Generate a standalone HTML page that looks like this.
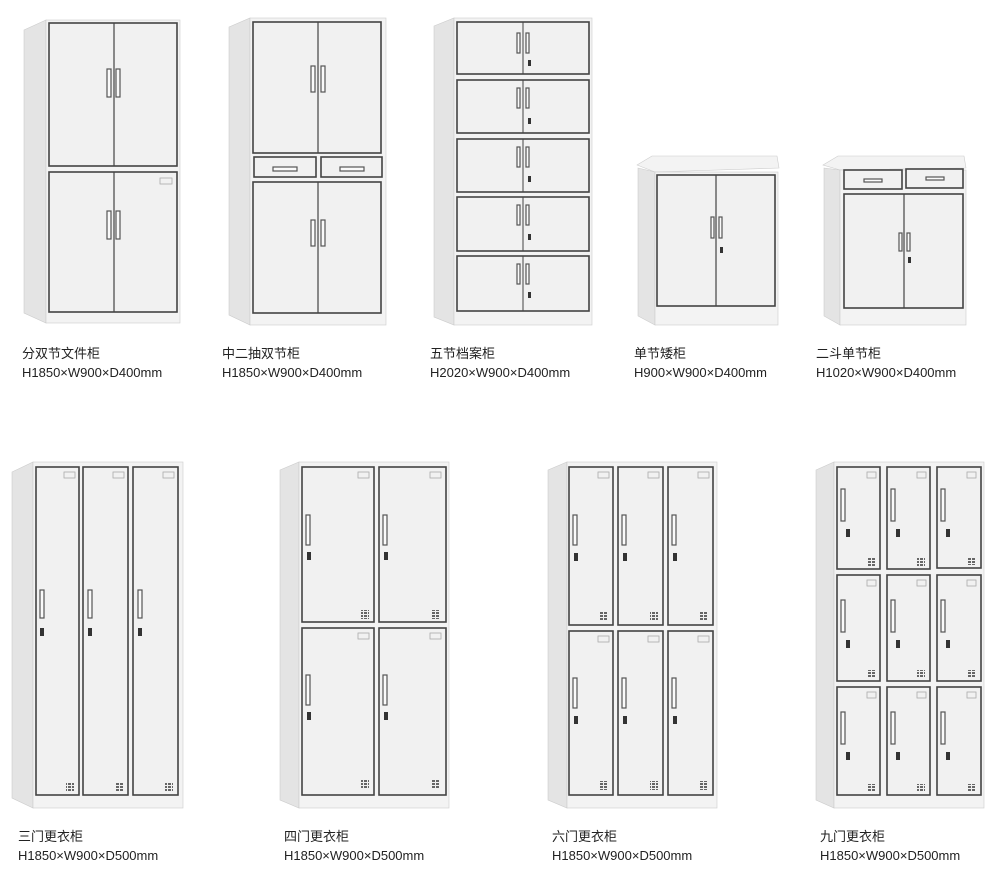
<!DOCTYPE html>
<html><head><meta charset="utf-8"><style>
body{margin:0;background:#fff;width:1000px;height:873px;overflow:hidden}
svg{display:block}
text{font-family:"Liberation Sans","Noto Sans CJK SC",sans-serif;font-size:13px;fill:#222}
.s{fill:#e4e4e4;stroke:#ccc;stroke-width:.6}
.b{fill:#f3f3f3;stroke:#ccc;stroke-width:.6}
.d{fill:#f1f1f1;stroke:#444;stroke-width:1.6}
.h{fill:#fafafa;stroke:#555;stroke-width:1.2}
.k{fill:#333}
.t{fill:none;stroke:#aaa;stroke-width:.8}
</style></head><body>
<svg width="1000" height="873" viewBox="0 0 1000 873">
<defs>
<pattern id="vp" width="4" height="3" patternUnits="userSpaceOnUse"><rect width="3" height="2" fill="#666"/></pattern>
</defs>
<!-- Cabinet 1 -->
<polygon class="s" points="24,30 46,20 46,323 24,313"/>
<rect class="b" x="46" y="20" width="134" height="303"/>
<rect class="d" x="49" y="23" width="128" height="143"/>
<line x1="114" y1="23" x2="114" y2="166" stroke="#444" stroke-width="1.2"/>
<rect class="d" x="49" y="172" width="128" height="140"/>
<line x1="114" y1="172" x2="114" y2="312" stroke="#444" stroke-width="1.2"/>
<rect class="h" x="107" y="69" width="4" height="28"/><rect class="h" x="116" y="69" width="4" height="28"/>
<rect class="h" x="107" y="211" width="4" height="28"/><rect class="h" x="116" y="211" width="4" height="28"/>
<rect class="t" x="160" y="178" width="12" height="6"/>
<!-- Cabinet 2 -->
<polygon class="s" points="229,27 250,18 250,325 229,315"/>
<rect class="b" x="250" y="18" width="136" height="307"/>
<rect class="d" x="253" y="22" width="128" height="131"/>
<line x1="318" y1="22" x2="318" y2="153" stroke="#444" stroke-width="1.2"/>
<rect class="d" x="254" y="157" width="62" height="20"/><rect class="d" x="321" y="157" width="61" height="20"/>
<rect class="h" x="273" y="167" width="24" height="4"/><rect class="h" x="340" y="167" width="24" height="4"/>
<rect class="d" x="253" y="182" width="128" height="131"/>
<line x1="318" y1="182" x2="318" y2="313" stroke="#444" stroke-width="1.2"/>
<rect class="h" x="311" y="66" width="4" height="26"/><rect class="h" x="321" y="66" width="4" height="26"/>
<rect class="h" x="311" y="220" width="4" height="26"/><rect class="h" x="321" y="220" width="4" height="26"/>
<!-- Cabinet 3 -->
<polygon class="s" points="434,26 454,18 454,325 434,317"/>
<rect class="b" x="454" y="18" width="138" height="307"/>
<g>
<rect class="d" x="457" y="22" width="132" height="52"/><line x1="523" y1="22" x2="523" y2="74" stroke="#444"/>
<rect class="d" x="457" y="80" width="132" height="53"/><line x1="523" y1="80" x2="523" y2="133" stroke="#444"/>
<rect class="d" x="457" y="139" width="132" height="53"/><line x1="523" y1="139" x2="523" y2="192" stroke="#444"/>
<rect class="d" x="457" y="197" width="132" height="54"/><line x1="523" y1="197" x2="523" y2="251" stroke="#444"/>
<rect class="d" x="457" y="256" width="132" height="55"/><line x1="523" y1="256" x2="523" y2="311" stroke="#444"/>
</g>
<g class="h">
<rect x="517" y="33" width="3" height="20"/><rect x="526" y="33" width="3" height="20"/>
<rect x="517" y="88" width="3" height="20"/><rect x="526" y="88" width="3" height="20"/>
<rect x="517" y="147" width="3" height="20"/><rect x="526" y="147" width="3" height="20"/>
<rect x="517" y="205" width="3" height="20"/><rect x="526" y="205" width="3" height="20"/>
<rect x="517" y="264" width="3" height="20"/><rect x="526" y="264" width="3" height="20"/>
</g>
<g class="k"><rect x="528" y="60" width="3" height="6"/><rect x="528" y="118" width="3" height="6"/><rect x="528" y="176" width="3" height="6"/><rect x="528" y="234" width="3" height="6"/><rect x="528" y="292" width="3" height="6"/></g>
<!-- Cabinet 4 -->
<polygon class="b" points="637,165 652,156 777,156 779,168 655,172"/>
<polygon class="s" points="638,168 655,172 655,325 638,316"/>
<rect class="b" x="655" y="172" width="123" height="153"/>
<rect class="d" x="657" y="175" width="118" height="131"/>
<line x1="716" y1="175" x2="716" y2="306" stroke="#444" stroke-width="1.2"/>
<rect class="h" x="711" y="217" width="3" height="21"/><rect x="719" y="217" width="3" height="21" class="h"/>
<rect class="k" x="720" y="247" width="3" height="6"/>
<!-- Cabinet 5 -->
<polygon class="b" points="823,165 838,156 964,156 966,168 840,170"/>
<polygon class="s" points="824,168 840,170 840,325 824,316"/>
<rect class="b" x="840" y="170" width="126" height="155"/>
<rect class="d" x="844" y="170" width="58" height="19"/><rect class="d" x="906" y="169" width="57" height="19"/>
<rect class="h" x="864" y="179" width="18" height="3"/><rect class="h" x="926" y="177" width="18" height="3"/>
<rect class="d" x="844" y="194" width="119" height="114"/>
<line x1="904" y1="194" x2="904" y2="308" stroke="#444" stroke-width="1.2"/>
<rect class="h" x="899" y="233" width="3" height="18"/><rect class="h" x="907" y="233" width="3" height="18"/>
<rect class="k" x="908" y="257" width="3" height="6"/>
<!-- Row 1 labels -->
<text x="22" y="358">分双节文件柜</text><text x="22" y="377">H1850×W900×D400mm</text>
<text x="222" y="358">中二抽双节柜</text><text x="222" y="377">H1850×W900×D400mm</text>
<text x="430" y="358">五节档案柜</text><text x="430" y="377">H2020×W900×D400mm</text>
<text x="634" y="358">单节矮柜</text><text x="634" y="377">H900×W900×D400mm</text>
<text x="816" y="358">二斗单节柜</text><text x="816" y="377">H1020×W900×D400mm</text>

<!-- Locker A -->
<polygon class="s" points="12,472 33,462 33,808 12,798"/>
<rect class="b" x="33" y="462" width="150" height="346"/>
<rect class="d" x="36" y="467" width="43" height="328"/><rect class="d" x="83" y="467" width="45" height="328"/><rect class="d" x="133" y="467" width="45" height="328"/>
<rect class="h" x="40" y="590" width="4" height="28"/><rect class="h" x="88" y="590" width="4" height="28"/><rect class="h" x="138" y="590" width="4" height="28"/>
<g class="k"><rect x="40" y="628" width="4" height="8"/><rect x="88" y="628" width="4" height="8"/><rect x="138" y="628" width="4" height="8"/></g>
<g fill="url(#vp)"><rect x="66" y="782" width="8" height="9"/><rect x="115" y="782" width="8" height="9"/><rect x="165" y="782" width="8" height="9"/></g>
<g class="t"><rect x="64" y="472" width="11" height="6"/><rect x="113" y="472" width="11" height="6"/><rect x="163" y="472" width="11" height="6"/></g>
<!-- Locker B -->
<polygon class="s" points="280,470 299,462 299,808 280,800"/>
<rect class="b" x="299" y="462" width="150" height="346"/>
<rect class="d" x="302" y="467" width="72" height="155"/><rect class="d" x="379" y="467" width="67" height="155"/>
<rect class="d" x="302" y="628" width="72" height="167"/><rect class="d" x="379" y="628" width="67" height="167"/>
<g class="h"><rect x="306" y="515" width="4" height="30"/><rect x="383" y="515" width="4" height="30"/><rect x="306" y="675" width="4" height="30"/><rect x="383" y="675" width="4" height="30"/></g>
<g class="k"><rect x="307" y="552" width="4" height="8"/><rect x="384" y="552" width="4" height="8"/><rect x="307" y="712" width="4" height="8"/><rect x="384" y="712" width="4" height="8"/></g>
<g fill="url(#vp)"><rect x="361" y="610" width="8" height="9"/><rect x="432" y="610" width="8" height="9"/><rect x="361" y="780" width="8" height="9"/><rect x="432" y="780" width="8" height="9"/></g>
<g class="t"><rect x="358" y="472" width="11" height="6"/><rect x="430" y="472" width="11" height="6"/><rect x="358" y="633" width="11" height="6"/><rect x="430" y="633" width="11" height="6"/></g>
<!-- Locker C -->
<polygon class="s" points="548,470 567,462 567,808 548,800"/>
<rect class="b" x="567" y="462" width="150" height="346"/>
<g class="d"><rect x="569" y="467" width="44" height="158"/><rect x="618" y="467" width="45" height="158"/><rect x="668" y="467" width="45" height="158"/>
<rect x="569" y="631" width="44" height="164"/><rect x="618" y="631" width="45" height="164"/><rect x="668" y="631" width="45" height="164"/></g>
<g class="h"><rect x="573" y="515" width="4" height="30"/><rect x="622" y="515" width="4" height="30"/><rect x="672" y="515" width="4" height="30"/><rect x="573" y="678" width="4" height="30"/><rect x="622" y="678" width="4" height="30"/><rect x="672" y="678" width="4" height="30"/></g>
<g class="k"><rect x="574" y="553" width="4" height="8"/><rect x="623" y="553" width="4" height="8"/><rect x="673" y="553" width="4" height="8"/><rect x="574" y="716" width="4" height="8"/><rect x="623" y="716" width="4" height="8"/><rect x="673" y="716" width="4" height="8"/></g>
<g fill="url(#vp)"><rect x="600" y="612" width="8" height="9"/><rect x="650" y="612" width="8" height="9"/><rect x="700" y="612" width="8" height="9"/><rect x="600" y="781" width="8" height="9"/><rect x="650" y="781" width="8" height="9"/><rect x="700" y="781" width="8" height="9"/></g>
<g class="t"><rect x="598" y="472" width="11" height="6"/><rect x="648" y="472" width="11" height="6"/><rect x="698" y="472" width="11" height="6"/><rect x="598" y="636" width="11" height="6"/><rect x="648" y="636" width="11" height="6"/><rect x="698" y="636" width="11" height="6"/></g>
<!-- Locker D -->
<polygon class="s" points="816,470 834,462 834,808 816,800"/>
<rect class="b" x="834" y="462" width="150" height="346"/>
<g class="d"><rect x="837" y="467" width="43" height="102"/><rect x="887" y="467" width="43" height="102"/><rect x="937" y="467" width="44" height="101"/>
<rect x="837" y="575" width="43" height="106"/><rect x="887" y="575" width="43" height="106"/><rect x="937" y="575" width="44" height="106"/>
<rect x="837" y="687" width="43" height="108"/><rect x="887" y="687" width="43" height="108"/><rect x="937" y="687" width="44" height="108"/></g>
<g class="h"><rect x="841" y="489" width="4" height="32"/><rect x="891" y="489" width="4" height="32"/><rect x="941" y="489" width="4" height="32"/>
<rect x="841" y="600" width="4" height="32"/><rect x="891" y="600" width="4" height="32"/><rect x="941" y="600" width="4" height="32"/>
<rect x="841" y="712" width="4" height="32"/><rect x="891" y="712" width="4" height="32"/><rect x="941" y="712" width="4" height="32"/></g>
<g class="k"><rect x="846" y="529" width="4" height="8"/><rect x="896" y="529" width="4" height="8"/><rect x="946" y="529" width="4" height="8"/>
<rect x="846" y="640" width="4" height="8"/><rect x="896" y="640" width="4" height="8"/><rect x="946" y="640" width="4" height="8"/>
<rect x="846" y="752" width="4" height="8"/><rect x="896" y="752" width="4" height="8"/><rect x="946" y="752" width="4" height="8"/></g>
<g fill="url(#vp)"><rect x="867" y="558" width="8" height="8"/><rect x="917" y="558" width="8" height="8"/><rect x="967" y="557" width="8" height="8"/>
<rect x="867" y="670" width="8" height="8"/><rect x="917" y="670" width="8" height="8"/><rect x="967" y="670" width="8" height="8"/>
<rect x="867" y="784" width="8" height="8"/><rect x="917" y="784" width="8" height="8"/><rect x="967" y="784" width="8" height="8"/></g>
<g class="t"><rect x="867" y="472" width="9" height="6"/><rect x="917" y="472" width="9" height="6"/><rect x="967" y="472" width="9" height="6"/>
<rect x="867" y="580" width="9" height="6"/><rect x="917" y="580" width="9" height="6"/><rect x="967" y="580" width="9" height="6"/>
<rect x="867" y="692" width="9" height="6"/><rect x="917" y="692" width="9" height="6"/><rect x="967" y="692" width="9" height="6"/></g>
<!-- Row 2 labels -->
<text x="18" y="841">三门更衣柜</text><text x="18" y="860">H1850×W900×D500mm</text>
<text x="284" y="841">四门更衣柜</text><text x="284" y="860">H1850×W900×D500mm</text>
<text x="552" y="841">六门更衣柜</text><text x="552" y="860">H1850×W900×D500mm</text>
<text x="820" y="841">九门更衣柜</text><text x="820" y="860">H1850×W900×D500mm</text>
</svg>
</body></html>
